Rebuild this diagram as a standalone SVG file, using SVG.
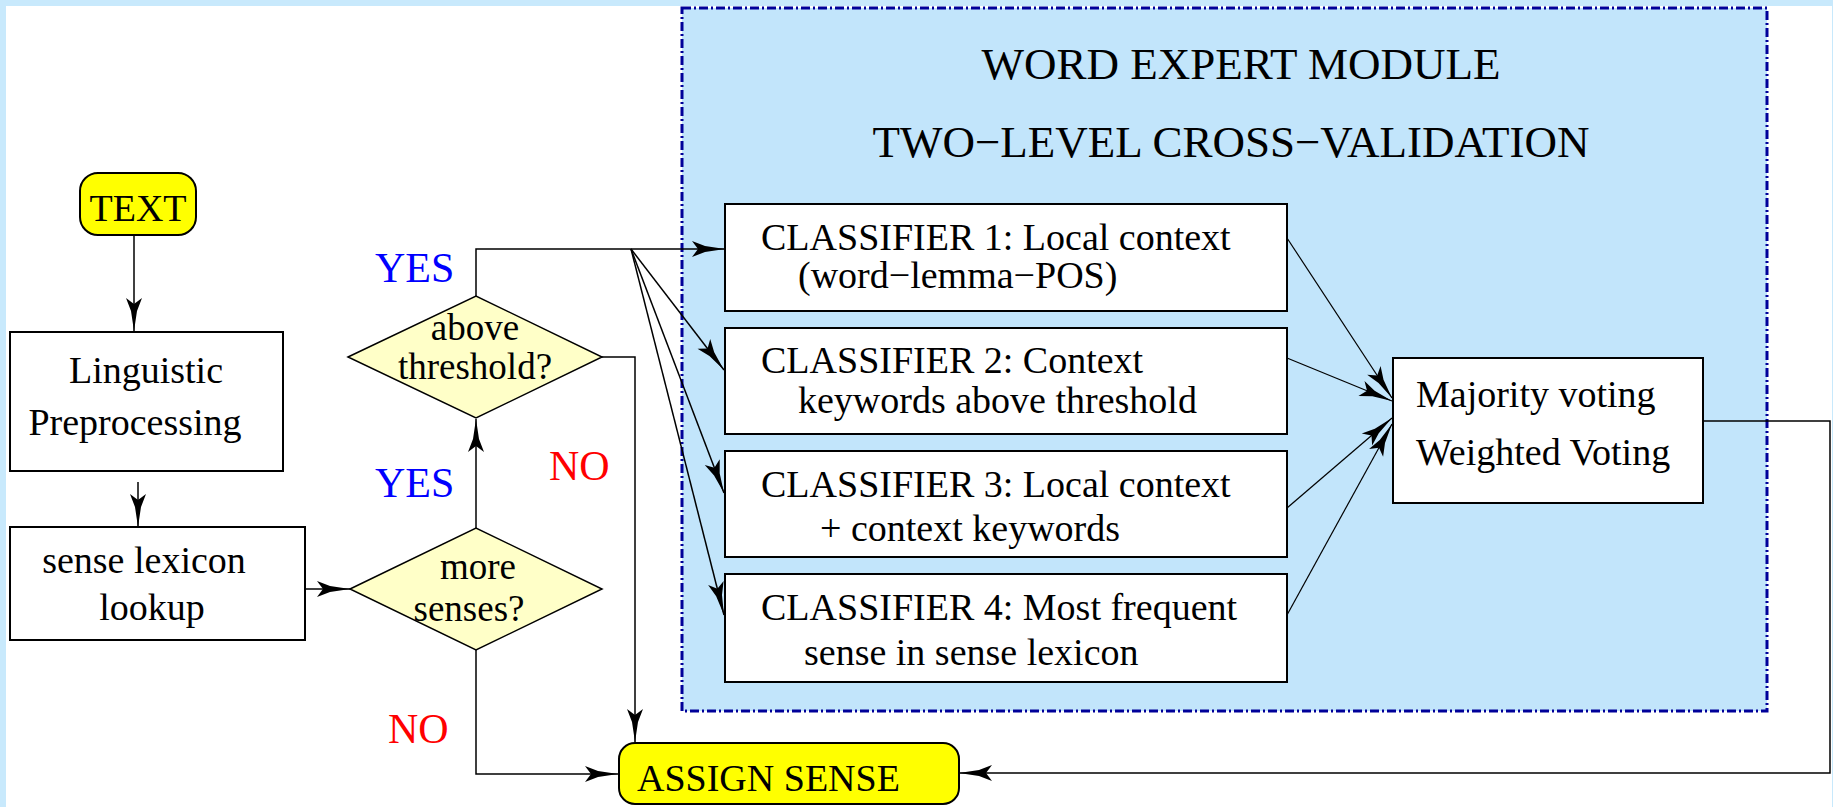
<svg xmlns="http://www.w3.org/2000/svg" width="1833" height="807" viewBox="0 0 1833 807">
<style>
  text { font-family: "Liberation Serif", "Times New Roman", serif; fill: #000; }
  .t38 { font-size: 38px; }
  .t36 { font-size: 37px; }
  .ttl { font-size: 45px; }
  .yes { font-size: 42px; fill: #0000ff; }
  .no { font-size: 42px; fill: #ff0000; }
  .box { fill: #ffffff; stroke: #000; stroke-width: 2; }
  .term { fill: #ffff00; stroke: #000; stroke-width: 2; }
  .dia { fill: #ffffc8; stroke: #000; stroke-width: 1.5; }
  .conn path { fill: none; stroke: #000; stroke-width: 1.5; }
  .conn path.arr { marker-end: url(#arr); }
  .thin { stroke-width: 1.2 !important; }
</style>
<defs>
  <marker id="arr" viewBox="-36 -10 38 20" refX="0" refY="0" markerWidth="38" markerHeight="20" markerUnits="userSpaceOnUse" orient="auto">
    <path d="M0,0 L-20,-3 L-33,-8 L-27,0 L-33,8 L-20,3 Z" fill="#000"/>
  </marker>
</defs>

<rect x="0" y="0" width="1833" height="807" fill="#c8e9fc"/>
<rect x="6" y="6" width="1826" height="801" fill="#ffffff"/>

<g id="module">
  <rect x="682" y="8" width="1085" height="703" fill="#c2e5fb" stroke="#000099" stroke-width="3" stroke-dasharray="9 3 2 3"/>
  <text class="ttl" x="1241" y="79" text-anchor="middle">WORD EXPERT MODULE</text>
  <text class="ttl" x="1231" y="157" text-anchor="middle">TWO−LEVEL CROSS−VALIDATION</text>
</g>

<g class="conn" id="connectors">
  <path class="arr" d="M134,235 V331"/>
  <path class="arr" d="M138,482 V527"/>
  <path class="arr" d="M299,589 H350"/>
  <path class="arr" d="M476,528 V419"/>
  <path class="arr" d="M476,296 V249 H725"/>
  <path class="arr" d="M631,249 L724,370"/>
  <path class="arr" d="M631,249 L724,493"/>
  <path class="arr" d="M631,249 L724,615"/>
  <path class="arr" d="M602,357 H635 V742"/>
  <path class="arr" d="M476,650 V774 H618"/>
  <path class="arr thin" d="M1287,238 L1392,398"/>
  <path class="arr thin" d="M1287,358 L1392,401"/>
  <path class="arr thin" d="M1287,508 L1392,418"/>
  <path class="arr thin" d="M1287,615 L1392,424"/>
  <path class="arr" d="M1703,421 H1830 V773 H959"/>
</g>

<g id="text-node">
  <rect class="term" x="80" y="173" width="116" height="62" rx="18" ry="18"/>
  <text class="t38" x="138" y="221" text-anchor="middle">TEXT</text>
</g>

<g id="linguistic">
  <rect class="box" x="10" y="332" width="273" height="139"/>
  <text class="t38" x="146" y="383" text-anchor="middle">Linguistic</text>
  <text class="t38" x="135" y="435" text-anchor="middle">Preprocessing</text>
</g>

<g id="lexicon">
  <rect class="box" x="10" y="527" width="295" height="113"/>
  <text class="t38" x="144" y="573" text-anchor="middle">sense lexicon</text>
  <text class="t38" x="152" y="620" text-anchor="middle">lookup</text>
</g>

<g id="more-senses">
  <polygon class="dia" points="350,589 476,528 602,589 476,650"/>
  <text class="t36" x="478" y="579" text-anchor="middle">more</text>
  <text class="t36" x="469" y="621" text-anchor="middle">senses?</text>
</g>

<g id="above-threshold">
  <polygon class="dia" points="348,357 476,296 602,357 476,418"/>
  <text class="t36" x="475" y="340" text-anchor="middle">above</text>
  <text class="t36" x="475" y="379" text-anchor="middle">threshold?</text>
</g>

<g id="labels">
  <text class="yes" x="375" y="282">YES</text>
  <text class="yes" x="375" y="497">YES</text>
  <text class="no" x="549" y="480">NO</text>
  <text class="no" x="388" y="743">NO</text>
</g>

<g id="classifier1">
  <rect class="box" x="725" y="204" width="562" height="107"/>
  <text class="t38" x="761" y="250">CLASSIFIER 1: Local context</text>
  <text class="t38" x="798" y="288">(word−lemma−POS)</text>
</g>

<g id="classifier2">
  <rect class="box" x="725" y="328" width="562" height="106"/>
  <text class="t38" x="761" y="373">CLASSIFIER 2: Context</text>
  <text class="t38" x="798" y="413">keywords above threshold</text>
</g>

<g id="classifier3">
  <rect class="box" x="725" y="451" width="562" height="106"/>
  <text class="t38" x="761" y="497">CLASSIFIER 3: Local context</text>
  <text class="t38" x="820" y="541">+ context keywords</text>
</g>

<g id="classifier4">
  <rect class="box" x="725" y="574" width="562" height="108"/>
  <text class="t38" x="761" y="620">CLASSIFIER 4: Most frequent</text>
  <text class="t38" x="804" y="665">sense in sense lexicon</text>
</g>

<g id="voting">
  <rect class="box" x="1393" y="358" width="310" height="145"/>
  <text class="t38" x="1416" y="407">Majority voting</text>
  <text class="t38" x="1416" y="465">Weighted Voting</text>
</g>

<g id="assign-sense">
  <rect class="term" x="619" y="743" width="340" height="61" rx="16" ry="16"/>
  <text class="t38" x="637" y="791">ASSIGN SENSE</text>
</g>
</svg>
